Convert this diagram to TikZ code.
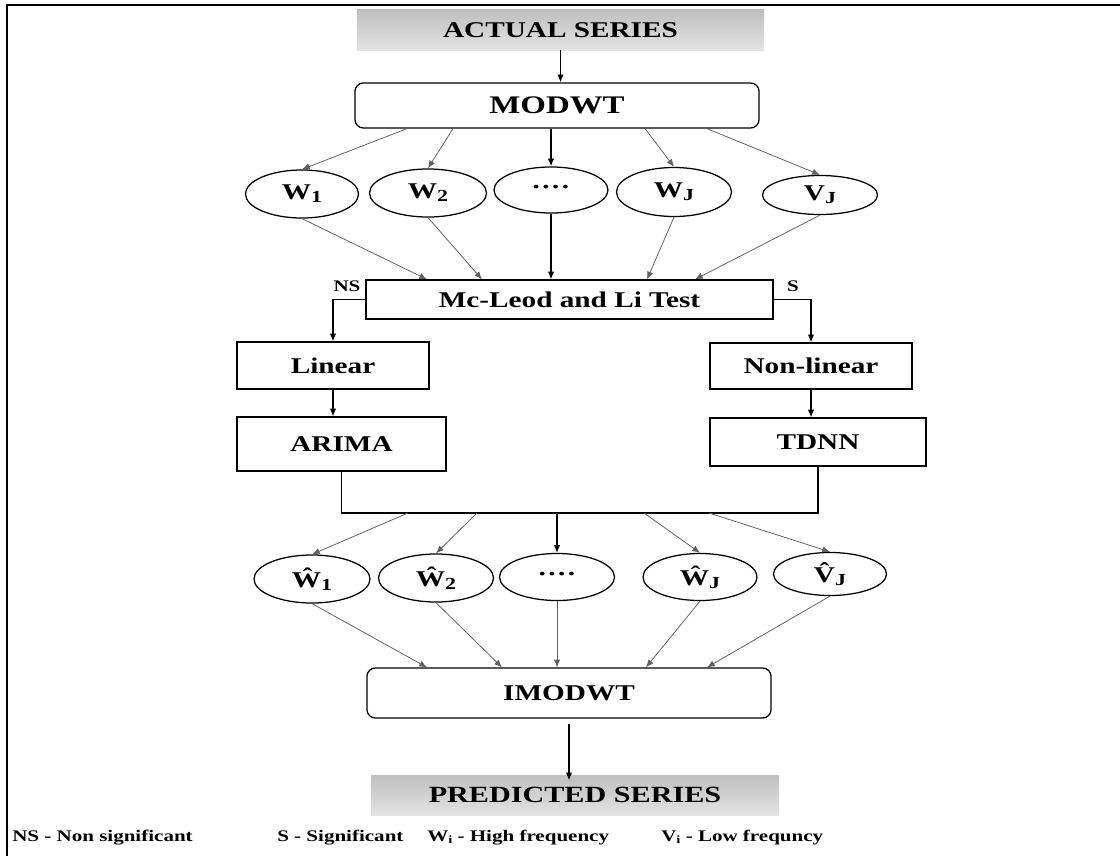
\documentclass[tikz,border=0pt]{standalone}
\usepackage{fontspec}
\setmainfont{Liberation Serif}[FakeStretch=1.3]
\usetikzlibrary{positioning}
\usetikzlibrary{shapes.geometric}
\usetikzlibrary{arrows.meta}
\usetikzlibrary{calc}
\newcommand{\lowidx}[1]{\raisebox{-0.3ex}{\fontsize{12}{13}\selectfont #1}}
\newcommand{\legidx}[1]{\raisebox{-0.2ex}{\fontsize{8}{9}\selectfont #1}}
\tikzset{>={Latex[length=5.5pt,width=4.5pt]}}
\tikzset{blk/.style={draw, line width=0.9pt, inner sep=0pt, font=\bfseries\fontsize{16}{19}\selectfont}}
\tikzset{rblk/.style={blk, rounded corners=6pt}}
\tikzset{series/.style={inner sep=0pt, top color=gray!50, bottom color=gray!22, font=\bfseries\fontsize{16}{19}\selectfont}}
\tikzset{comp/.style={draw, ellipse, line width=0.9pt, inner sep=0pt, font=\bfseries\fontsize{16}{18}\selectfont}}
\tikzset{feed/.style={->, draw=gray!75!black, line width=0.55pt}}
\tikzset{flow/.style={->, line width=0.8pt}}
\tikzset{lbl/.style={inner sep=0pt, font=\bfseries\fontsize{11.5}{13}\selectfont}}

\begin{document}
\begin{tikzpicture}[x=0.025cm, y=-0.025cm]
\useasboundingbox (0,0) rectangle (1120,856);
\draw[line width=1.4pt] (1120,5) -- (7,5) -- (7,856);

% decomposition
\node[series, minimum width=10.175cm, minimum height=1cm] (actual) at (560.5,30) {ACTUAL SERIES};
\node[rblk, minimum width=10.1cm, minimum height=1.125cm, font=\bfseries\fontsize{18}{21}\selectfont] (modwt) at (557,105.5) {MODWT};

\node[comp, minimum width=2.825cm, minimum height=1.2cm] (w1) at (302,194) {W\lowidx{1}};
\node[comp, minimum width=2.925cm, minimum height=1.2cm] (w2) at (428,193) {W\lowidx{2}};
\node[comp, minimum width=2.85cm, minimum height=1.15cm] (wd) at (551,190) {····};
\node[comp, minimum width=2.875cm, minimum height=1.225cm] (wj) at (674,192) {W\lowidx{J}};
\node[comp, minimum width=2.875cm, minimum height=0.975cm] (vj) at (820,195) {V\lowidx{J}};

\draw[flow] (actual.south) -- (actual.south |- modwt.north);
\draw[feed] ([xshift=-3.75cm]modwt.south) -- (w1.north);
\draw[feed] ([xshift=-2.6cm]modwt.south) -- (w2.north);
\draw[flow] (modwt.south -| wd.north) -- (wd.north);
\draw[feed] ([xshift=2.2cm]modwt.south) -- (wj.north);
\draw[feed] ([xshift=3.75cm]modwt.south) -- (vj.north);

% test and models
\node[blk, minimum width=10.175cm, minimum height=0.975cm] (test) at (569.5,299.5) {Mc-Leod and Li Test};
\node[lbl] (ns) at (347,286) {NS};
\node[lbl] (s) at (793,286) {S};

\draw[feed] (w1.south) -- ([xshift=-3.5625cm]test.north);
\draw[feed] (w2.south) -- ([xshift=-2.1875cm]test.north);
\draw[flow] (wd.south) -- (wd.south |- test.north);
\draw[feed] (wj.south) -- ([xshift=1.9375cm]test.north);
\draw[feed] (vj.south) -- ([xshift=3.1375cm]test.north);

\node[blk, minimum width=4.8cm, minimum height=1.175cm] (linear) at (333,365.5) {Linear};
\node[blk, minimum width=5.225cm, minimum height=1.35cm] (arima) at (341.5,444) {ARIMA};
\node[blk, minimum width=5.05cm, minimum height=1.15cm] (nonlin) at (811,366) {Non-linear};
\node[blk, minimum width=5.4cm, minimum height=1.2cm] (tdnn) at (818,442) {TDNN};

\draw[flow] (test.west) -| (linear.north);
\draw[flow] (test.east) -| (nonlin.north);
\draw[flow] (linear.south) -- (linear.south |- arima.north);
\draw[flow] (nonlin.south) -- (nonlin.south |- tdnn.north);

\coordinate (mrg) at (576,513);
\draw[line width=0.8pt] (arima.south) |- (mrg) -| (tdnn.south);
\coordinate (m1) at (408,513);
\coordinate (m2) at (477,513);
\coordinate (m4) at (644,513);
\coordinate (m5) at (709,513);

% reconstruction
\node[comp, minimum width=2.9cm, minimum height=1.2cm] (hw1) at (312,579) {\^{W}\lowidx{1}};
\node[comp, minimum width=2.875cm, minimum height=1.2cm] (hw2) at (436,578) {\^{W}\lowidx{2}};
\node[comp, minimum width=2.875cm, minimum height=1.175cm] (hwd) at (557,577) {····};
\node[comp, minimum width=2.85cm, minimum height=1.175cm] (hwj) at (700,577) {\^{W}\lowidx{J}};
\node[comp, minimum width=2.825cm, minimum height=1.075cm] (hvj) at (830,574) {\^{V}\lowidx{J}};

\draw[feed] (m1) -- (hw1.north);
\draw[feed] (m2) -- (hw2.north);
\draw[flow] (hwd.north |- mrg) -- (hwd.north);
\draw[feed] (m4) -- (hwj.north);
\draw[feed] (m5) -- (hvj.north);

\node[rblk, minimum width=10.1cm, minimum height=1.25cm] (imodwt) at (569,693) {IMODWT};
\node[series, minimum width=10.2cm, minimum height=1cm, font=\bfseries\fontsize{16.5}{19}\selectfont] (predicted) at (575,795) {PREDICTED SERIES};

\draw[feed] (hw1.south) -- ([xshift=-3.55cm]imodwt.north);
\draw[feed] (hw2.south) -- ([xshift=-1.675cm]imodwt.north);
\draw[feed] (hwd.south) -- (hwd.south |- imodwt.north);
\draw[feed] (hwj.south) -- ([xshift=1.925cm]imodwt.north);
\draw[feed] (hvj.south) -- ([xshift=3.45cm]imodwt.north);
\draw[flow] ([yshift=-4pt]imodwt.south) -- ([yshift=-4pt]imodwt.south |- predicted.north);

% legend
\node[lbl, anchor=west] (leg1) at (12,838) {NS - Non significant};
\node[lbl, anchor=west] (leg2) at (277,838) {S - Significant};
\node[lbl, anchor=west] (leg3) at (427,838) {W\legidx{i} - High frequency};
\node[lbl, anchor=west] (leg4) at (661,838) {V\legidx{i} - Low frequncy};
\end{tikzpicture}
\end{document}
